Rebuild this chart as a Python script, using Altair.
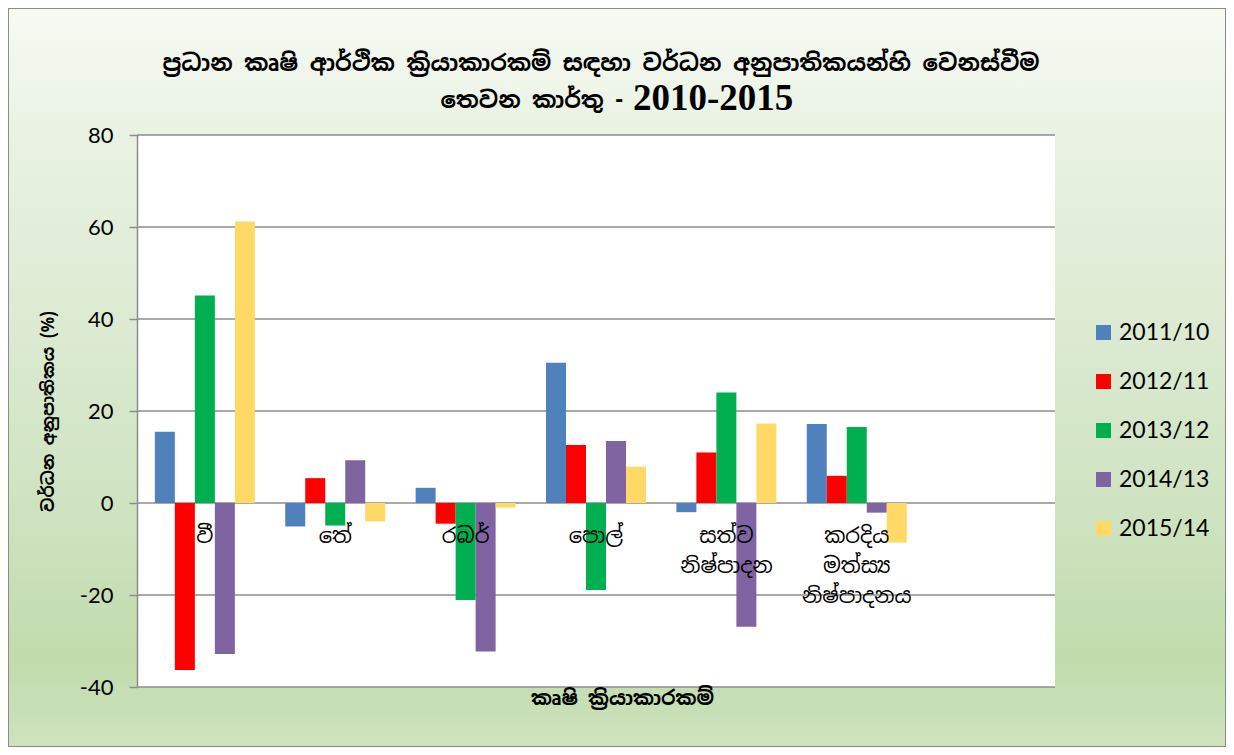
import altair as alt
import pandas as pd

categories = ["වී", "තේ", "රබර්", "පොල්", "සත්ව නිෂ්පාදන", "කරදිය මත්ස්‍ය නිෂ්පාදනය", " "]
cat_labels = ["වී", "තේ", "රබර්", "පොල්", "සත්ව\nනිෂ්පාදන", "කරදිය\nමත්ස්‍ය\nනිෂ්පාදනය", ""]
series = ["2011/10", "2012/11", "2013/12", "2014/13", "2015/14"]
v_2011_10 = [15.5, -5.1, 3.3, 30.5, -2.0, 17.2]
v_2012_11 = [-36.3, 5.4, -4.5, 12.6, 11.0, 5.9]
v_2013_12 = [45.1, -4.9, -21.1, -18.9, 24.0, 16.5]
v_2014_13 = [-32.8, 9.3, -32.3, 13.5, -26.9, -2.1]
v_2015_14 = [61.2, -4.0, -1.0, 7.9, 17.3, -8.6]
colors = ["#4f81bd", "#ff0000", "#00b050", "#8064a2", "#ffd966"]
y_ticks = [-40, -20, 0, 20, 40, 60, 80]

title_line1 = "ප්‍රධාන කෘෂි ආර්ථික ක්‍රියාකාරකම් සඳහා වර්ධන අනුපාතිකයන්හි වෙනස්වීම"
title_line2a = "තෙවන කාර්තු -"
title_line2b = "2010-2015"
x_title = "කෘෂි ක්‍රියාකාරකම්"
y_title = "වර්ධන අනුපාතිකය  (%)"

SIN = "Noto Sans Sinhala, Iskoola Pota, Noto Sans, sans-serif"
NUM = "Lato, Open Sans, sans-serif"
SERIF = "Liberation Serif, Times New Roman, serif"

rows = []
for s, vals in zip(series, [v_2011_10, v_2012_11, v_2013_12, v_2014_13, v_2015_14]):
    for c, v in zip(categories, vals):
        rows.append({"category": c, "series": s, "value": v})
df = pd.DataFrame(rows)
lab_df = pd.DataFrame({"category": categories, "label": cat_labels})
tick_df = pd.DataFrame({"t": y_ticks})
one = pd.DataFrame({"a": [0]})

W, H = 918, 552
PL, PT, PR, PB = 129, 127, 171, 60

bg = alt.Chart(one).mark_rect(
    fill={"gradient": "linear", "x1": 0, "y1": 0, "x2": 0, "y2": 1,
          "stops": [{"offset": 0, "color": "#f7faf3"},
                    {"offset": 0.17, "color": "#e9f2e3"},
                    {"offset": 0.67, "color": "#cfe3c1"},
                    {"offset": 0.88, "color": "#c1dbac"},
                    {"offset": 1, "color": "#cde3bd"}]},
    stroke="#8c8c8c", strokeWidth=2
).encode(x=alt.value(-PL), x2=alt.value(W + PR), y=alt.value(-PT), y2=alt.value(H + PB))

plot_bg = alt.Chart(one).mark_rect(fill="white").encode(
    x=alt.value(0), x2=alt.value(W), y=alt.value(0), y2=alt.value(H))

t1 = alt.Chart(pd.DataFrame({"t": [title_line1]})).mark_text(
    font=SIN, fontSize=23, fontWeight="bold", color="black", align="center",
    baseline="alphabetic").encode(x=alt.value(464), y=alt.value(-64), text="t:N")
t2a = alt.Chart(pd.DataFrame({"t": [title_line2a]})).mark_text(
    font=SIN, fontSize=23, fontWeight="bold", color="black", align="right",
    baseline="alphabetic").encode(x=alt.value(486), y=alt.value(-27), text="t:N")
t2b = alt.Chart(pd.DataFrame({"t": [title_line2b]})).mark_text(
    font=SERIF, fontSize=37, fontWeight="bold", color="black", align="left",
    baseline="alphabetic").encode(x=alt.value(496), y=alt.value(-25), text="t:N")

yscale = alt.Scale(domain=[-40, 80], nice=False)
xscale = alt.Scale(domain=categories, paddingInner=0.233, paddingOuter=0.137)

yaxis = alt.Axis(values=y_ticks, grid=False, domainColor="#8c8c8c", domainWidth=1.5,
                 tickColor="#8c8c8c", tickWidth=1.5, tickSize=8, labelExpr="'' + datum.value",
                 labelFont=NUM, labelFontSize=22, labelColor="black", labelPadding=16,
                 title=y_title, titleFont=SIN, titleFontSize=17, titleFontWeight="bold",
                 titleColor="black", titleX=-89, titleY=276, titleAlign="center",
                 titleBaseline="middle", titleAngle=270, zindex=1)
xaxis = alt.Axis(labels=False, ticks=False, domain=False, title=x_title,
                 titleFont=SIN, titleFontSize=20, titleFontWeight="bold",
                 titleColor="black", titleX=485, titlePadding=1, zindex=1)

grid = alt.Chart(tick_df).mark_rule(color="#8c8c8c", strokeWidth=1.5).encode(
    y=alt.Y("t:Q", scale=yscale, axis=yaxis))

bars = alt.Chart(df).mark_bar().encode(
    x=alt.X("category:N", scale=xscale, sort=categories, axis=xaxis),
    xOffset=alt.XOffset("series:N", sort=series, scale=alt.Scale(paddingInner=0, paddingOuter=0)),
    y=alt.Y("value:Q", scale=yscale, axis=yaxis),
    color=alt.Color("series:N", scale=alt.Scale(domain=series, range=colors),
                    legend=alt.Legend(title=None, orient="none", legendX=955, legendY=186,
                                      symbolType="square", symbolSize=225, symbolStrokeWidth=0,
                                      labelFont=NUM, labelFontSize=23, labelColor="black",
                                      labelOffset=4, rowPadding=25, padding=0)),
)

labels = alt.Chart(lab_df).mark_text(font=SIN, fontSize=21, baseline="top", align="center",
                                      dy=23, lineBreak="\n", lineHeight=30, color="black").encode(
    x=alt.X("category:N", scale=xscale, sort=categories, axis=xaxis),
    y=alt.datum(0, scale=yscale, axis=yaxis),
    text="label:N")

chart = alt.layer(bg, plot_bg, t1, t2a, t2b, grid, bars, labels).properties(
    width=W, height=H,
    autosize=alt.AutoSizeParams(type="none"),
    padding={"left": PL, "top": PT, "right": PR, "bottom": PB},
).configure_view(stroke=None).configure(background="white")

chart.save("out.html", embed_options={"renderer": "svg", "actions": False})
